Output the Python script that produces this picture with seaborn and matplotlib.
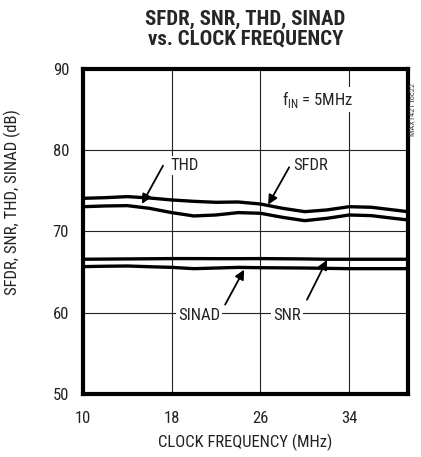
import numpy as np
import pandas as pd
import matplotlib
matplotlib.use("Agg")
import matplotlib.pyplot as plt
from matplotlib import font_manager
import seaborn as sns

# data (dB vs clock frequency in MHz)
clock_mhz = [10, 12, 14, 16, 18, 20, 22, 24, 26, 28, 30, 32, 34, 36, 38, 39.3]
sfdr = [74.08, 74.16, 74.29, 74.12, 73.88, 73.71, 73.59, 73.63, 73.38, 72.85,
        72.44, 72.65, 73.05, 72.98, 72.65, 72.44]
thd = [73.05, 73.14, 73.18, 72.85, 72.32, 71.91, 72.03, 72.32, 72.24, 71.74,
       71.33, 71.62, 72.03, 71.95, 71.62, 71.42]
snr = [66.58, 66.6, 66.62, 66.64, 66.66, 66.66, 66.65, 66.65, 66.66, 66.64,
       66.62, 66.58, 66.58, 66.58, 66.58, 66.58]
sinad = [65.67, 65.72, 65.75, 65.66, 65.58, 65.42, 65.5, 65.58, 65.54, 65.52,
         65.5, 65.46, 65.42, 65.42, 65.42, 65.42]

x_ticks = [10, 18, 26, 34]
y_ticks = [50, 60, 70, 80, 90]

sns.set_theme(style="white")

# pick a narrow font if there is one
installed = {f.name for f in font_manager.fontManager.ttflist}
font = "Liberation Sans"
for name in ["Liberation Sans Narrow", "Roboto Condensed", "Liberation Sans"]:
    if name in installed:
        font = name
        break
plt.rcParams["font.family"] = [font, "DejaVu Sans"]

fig = plt.figure(figsize=(4.21, 4.57), dpi=100)
ax = fig.add_axes([0.197, 0.138, 0.772, 0.711])

df = pd.DataFrame({"clock": clock_mhz, "SFDR": sfdr, "THD": thd,
                   "SNR": snr, "SINAD": sinad})
for col in ["SFDR", "THD", "SNR", "SINAD"]:
    sns.lineplot(data=df, x="clock", y=col, ax=ax, color="black", lw=2.4,
                 zorder=3)

ax.set_xlim(10, 39.3)
ax.set_ylim(50, 90)
ax.set_xticks(x_ticks)
ax.set_yticks(y_ticks)
ax.tick_params(length=0, labelsize=12, colors="#222222")
ax.tick_params(axis="x", pad=12)
ax.tick_params(axis="y", pad=10)
ax.grid(True, color="#222222", lw=0.8)
for s in ax.spines.values():
    s.set_linewidth(3)
    s.set_color("black")

ax.set_xlabel("CLOCK FREQUENCY (MHz)", fontsize=12, color="#222222", labelpad=6)
ax.set_ylabel("SFDR, SNR, THD, SINAD (dB)", fontsize=12, color="#222222")
ax.yaxis.set_label_coords(-0.19, 0.59)

fig.text(0.583, 0.978, "SFDR, SNR, THD, SINAD\nvs. CLOCK FREQUENCY",
         ha="center", va="top", fontsize=15, fontweight="bold",
         linespacing=1.05)

box = dict(facecolor="white", edgecolor="none", pad=1.5)
arrow = dict(arrowstyle="-|>", color="black", lw=1.3, mutation_scale=14,
             shrinkA=0, shrinkB=0)
ax.annotate("", xy=(15.32, 73.4), xytext=(17.22, 78.1), arrowprops=arrow)
ax.annotate("", xy=(26.7, 73.3), xytext=(28.59, 77.9), arrowprops=arrow)
ax.annotate("", xy=(24.53, 65.3), xytext=(22.82, 61.0), arrowprops=arrow)
ax.annotate("", xy=(32.0, 66.5), xytext=(30.2, 61.6), arrowprops=arrow)

ax.text(17.9, 78.1, "THD", fontsize=12, va="center", ha="left",
        color="#222222", bbox=box)
ax.text(29.0, 78.1, "SFDR", fontsize=12, va="center", ha="left",
        color="#222222", bbox=box)
ax.text(20.5, 59.6, "SINAD", fontsize=12, va="center", ha="center",
        color="#222222", bbox=box)
ax.text(28.4, 59.7, "SNR", fontsize=12, va="center", ha="center",
        color="#222222", bbox=box)
ax.text(31.2, 86.2, r"f$_{\mathregular{IN}}$ = 5MHz", fontsize=12,
        va="center", ha="center", color="#222222", bbox=box)

fig.text(0.981, 0.76, "MAX1421 toc22", rotation=90, fontsize=6,
         color="#444444", ha="center", va="center")

fig.savefig("out.png", dpi=100)
